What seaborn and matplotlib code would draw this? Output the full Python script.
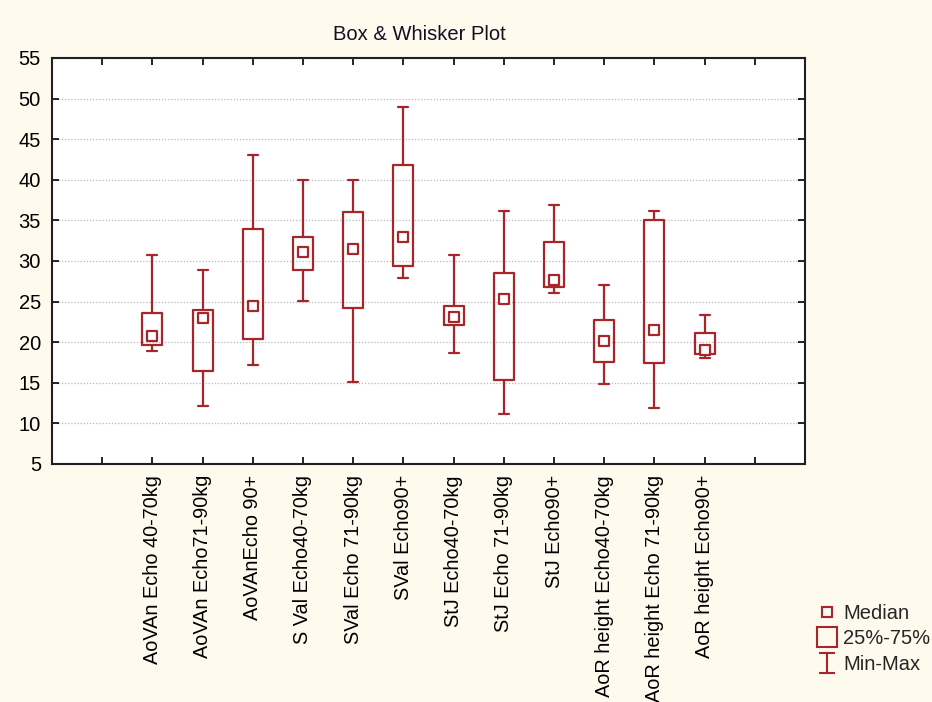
import numpy as np
import pandas as pd
import matplotlib
matplotlib.use("Agg")
import matplotlib.pyplot as plt
from matplotlib.lines import Line2D
from matplotlib.path import Path
import seaborn as sns

# Groups and their summary statistics
groups = [
    "AoVAn Echo 40-70kg", "AoVAn Echo71-90kg", "AoVAnEcho 90+",
    "S Val Echo40-70kg", "SVal Echo 71-90kg", "SVal Echo90+",
    "StJ Echo40-70kg", "StJ Echo 71-90kg", "StJ Echo90+",
    "AoR height Echo40-70kg", "AoR height Echo 71-90kg", "AoR height Echo90+",
]
mins    = [18.9, 12.1, 17.2, 25.1, 15.1, 27.9, 18.7, 11.2, 26.0, 14.9, 11.9, 18.1]
q1s     = [19.6, 16.4, 20.4, 28.9, 24.2, 29.4, 22.1, 15.3, 26.8, 17.6, 17.4, 18.5]
medians = [20.8, 23.0, 24.4, 31.1, 31.5, 33.0, 23.1, 25.3, 27.7, 20.1, 21.5, 19.1]
q3s     = [23.6, 24.0, 33.9, 33.0, 36.0, 41.8, 24.5, 28.5, 32.4, 22.7, 35.0, 21.1]
maxs    = [30.7, 28.9, 43.0, 40.0, 40.0, 49.0, 30.7, 36.2, 36.9, 27.0, 36.2, 23.4]

y_ticks = [5, 10, 15, 20, 25, 30, 35, 40, 45, 50, 55]
title = "Box & Whisker Plot"
legend_labels = ["Median", "25%-75%", "Min-Max"]

# Five points per group reproduce min / quartiles / max exactly
rows = []
for g, a, b, c, d, e in zip(groups, mins, q1s, medians, q3s, maxs):
    for v in (a, b, c, d, e):
        rows.append({"group": g, "value": v})
df = pd.DataFrame(rows)

RED = "#A8262A"
BG = "#FFFAEE"

sns.set_theme(style="ticks")
plt.rcParams["font.family"] = ["Liberation Sans", "DejaVu Sans"]

fig = plt.figure(figsize=(9.32, 7.02), dpi=100, facecolor=BG)
ax = fig.add_axes([52 / 932, 1 - 464 / 702, (805 - 52) / 932, (464 - 58) / 702])
ax.set_facecolor("white")

sns.boxplot(
    data=df, x="group", y="value", order=groups, ax=ax,
    whis=(0, 100), width=0.4, fill=False, color=RED, linewidth=1.6,
    showfliers=False,
    medianprops={"visible": False},
)

sns.scatterplot(
    x=np.arange(len(groups)), y=medians, ax=ax, marker="s", s=48,
    facecolor="white", edgecolor=RED, linewidth=1.6, zorder=4, legend=False,
)

ax.set_xlim(-2, len(groups) + 1)
ax.set_ylim(5, 55)
ax.set_yticks(y_ticks)
ax.set_xticks(np.arange(-1, len(groups) + 1))
ax.set_xticklabels([""] + groups + [""], rotation=90, fontsize=14.3)
ax.tick_params(axis="y", labelsize=14.5, pad=8)
ax.tick_params(axis="x", pad=8)
ax.tick_params(direction="in", length=5, width=1.2, top=True, right=True,
               colors="black")
ax.set_xlabel("")
ax.set_ylabel("")

ax.yaxis.grid(True, linestyle=(0, (1, 1.5)), color="#b8b8b8", linewidth=0.9)
ax.xaxis.grid(False)
ax.set_axisbelow(True)
for sp in ax.spines.values():
    sp.set_visible(True)
    sp.set_color("#202020")
    sp.set_linewidth(1.5)

fig.text(419 / 932, 1 - 34 / 702, title, ha="center", va="center",
         fontsize=14.5, color="#111122")

ibeam = Path(
    [(-0.4, 0.5), (0.4, 0.5), (0, 0.5), (0, -0.5), (-0.4, -0.5), (0.4, -0.5)],
    [Path.MOVETO, Path.LINETO, Path.MOVETO, Path.LINETO, Path.MOVETO, Path.LINETO],
)
handles = [
    Line2D([], [], ls="none", marker="s", markersize=6.5, mfc="none", mec=RED, mew=1.5),
    Line2D([], [], ls="none", marker="s", markersize=14, mfc="none", mec=RED, mew=1.5),
    Line2D([], [], ls="none", marker=ibeam, markersize=14, mfc="none", mec=RED, mew=1.5),
]
fig.legend(handles, legend_labels, loc="upper left",
           bbox_to_anchor=(817 / 932, 1 - 604 / 702), frameon=False,
           fontsize=14.5, handlelength=1.0, handletextpad=0.3,
           labelspacing=0.32, borderaxespad=0, borderpad=0)

fig.savefig("out.png", dpi=100, facecolor=BG)
